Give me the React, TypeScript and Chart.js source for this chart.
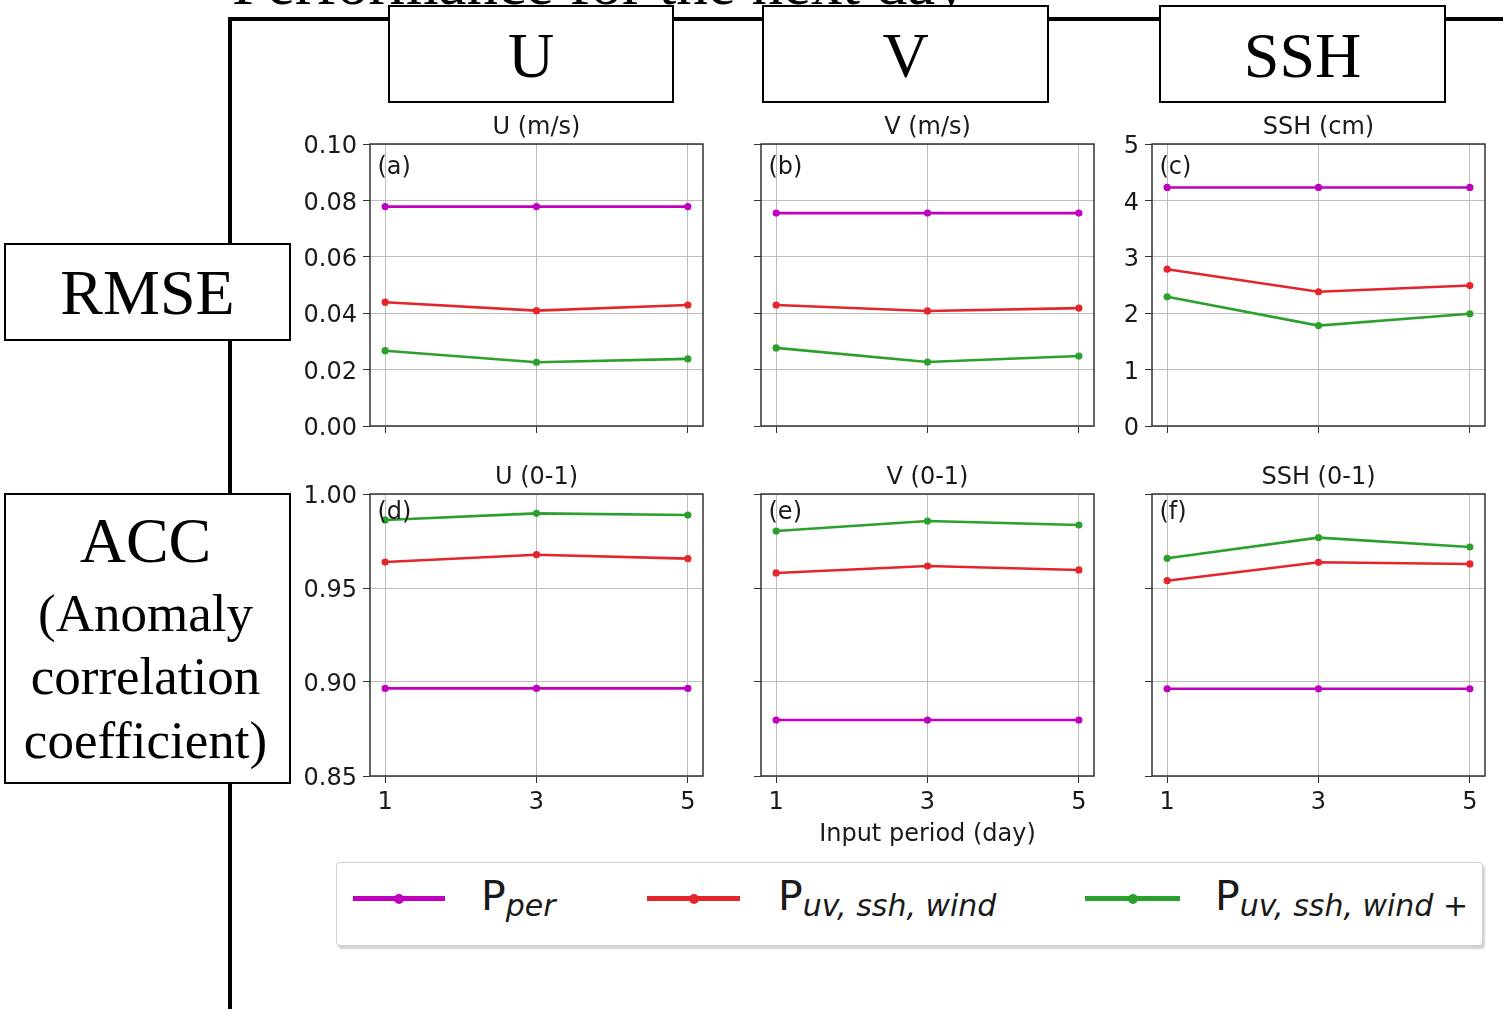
import React, { useEffect, useRef } from "react";
import { Chart, registerables } from "chart.js";

Chart.register(...registerables);

// ---------------- data ----------------
const inputPeriods = [1, 3, 5];
const xTickValues = [1, 3, 5];

const rmseUPer = [0.0778, 0.0778, 0.0778];
const rmseUWind = [0.0439, 0.0409, 0.0429];
const rmseUWindPlus = [0.0267, 0.0226, 0.0238];

const rmseVPer = [0.0755, 0.0755, 0.0755];
const rmseVWind = [0.0429, 0.0408, 0.0418];
const rmseVWindPlus = [0.0277, 0.0227, 0.0248];

const rmseSshPer = [4.23, 4.23, 4.23];
const rmseSshWind = [2.78, 2.38, 2.49];
const rmseSshWindPlus = [2.29, 1.78, 1.99];

const accUPer = [0.8966, 0.8966, 0.8966];
const accUWind = [0.9638, 0.9677, 0.9656];
const accUWindPlus = [0.9862, 0.9897, 0.9888];

const accVPer = [0.8798, 0.8798, 0.8798];
const accVWind = [0.958, 0.9617, 0.9596];
const accVWindPlus = [0.9803, 0.9856, 0.9835];

const accSshPer = [0.8964, 0.8964, 0.8964];
const accSshWind = [0.9539, 0.9637, 0.9628];
const accSshWindPlus = [0.9658, 0.9768, 0.9718];

const rmseUvTicks = [0, 0.02, 0.04, 0.06, 0.08, 0.1];
const rmseSshTicks = [0, 1, 2, 3, 4, 5];
const accTicks = [0.85, 0.9, 0.95, 1.0];

const panelTitles = ["U (m/s)", "V (m/s)", "SSH (cm)", "U (0-1)", "V (0-1)", "SSH (0-1)"];
const panelLetters = ["(a)", "(b)", "(c)", "(d)", "(e)", "(f)"];
const columnHeaders = ["U", "V", "SSH"];
const seriesSubscripts = ["per", "uv, ssh, wind", "uv, ssh, wind +"];
const xAxisTitle = "Input period (day)";
const pageTitle = "Performance for the next day";

// ---------------- styles ----------------
const MAGENTA = "#bf00bf";
const RED = "#e3262b";
const GREEN = "#2ca02c";
const SERIES_COLORS = [MAGENTA, RED, GREEN];
const GRID = "#bdbdbd";
const AXIS = "#333333";
const TEXT = "#1a1a1a";
const SANS = '"DejaVu Sans", sans-serif';
const SERIF = '"Liberation Serif", "Times New Roman", serif';

const PLOT_W = 333;
const PLOT_H = 282;
const PAD_L = 90;
const PAD_T = 40;
const PAD_R = 30;
const PAD_B = 50;
const CW = PLOT_W + PAD_L + PAD_R;
const CH = PLOT_H + PAD_T + PAD_B;
const COL_LEFT = [370, 761, 1152];
const ROW_TOP = [144, 494];

type PanelProps = {
  series: number[][];
  yTicks: number[];
  decimals: number;
  showY: boolean;
  showX: boolean;
  left: number;
  top: number;
};

const framePlugin = {
  id: "frameBox",
  afterDraw(chart: any) {
    const { ctx, chartArea } = chart;
    ctx.save();
    ctx.strokeStyle = AXIS;
    ctx.lineWidth = 1.5;
    ctx.strokeRect(chartArea.left, chartArea.top, chartArea.right - chartArea.left, chartArea.bottom - chartArea.top);
    ctx.restore();
  },
};

function Panel({ series, yTicks, decimals, showY, showX, left, top }: PanelProps) {
  const ref = useRef<HTMLCanvasElement | null>(null);
  useEffect(() => {
    if (!ref.current) return;
    const chart = new Chart(ref.current, {
      type: "line",
      data: {
        datasets: series.map((vals, si) => ({
          data: inputPeriods.map((x, i) => ({ x, y: vals[i] })),
          borderColor: SERIES_COLORS[si],
          backgroundColor: SERIES_COLORS[si],
          borderWidth: 2.6,
          pointRadius: 3.6,
          pointBorderWidth: 0,
          pointHoverRadius: 3.6,
          tension: 0,
          order: 3 - si,
        })),
      },
      options: {
        animation: false,
        responsive: false,
        layout: { padding: { top: PAD_T, right: PAD_R, left: 0, bottom: 0 } },
        plugins: { legend: { display: false }, tooltip: { enabled: false }, title: { display: false } },
        scales: {
          x: {
            type: "linear",
            min: 0.8,
            max: 5.2,
            afterBuildTicks: (s: any) => {
              s.ticks = xTickValues.map((v) => ({ value: v }));
            },
            afterFit: (s: any) => {
              s.height = PAD_B;
            },
            grid: { color: GRID, lineWidth: 1, tickLength: 7, tickColor: AXIS, drawTicks: true },
            border: { display: false },
            ticks: {
              display: showX,
              autoSkip: false,
              maxRotation: 0,
              padding: 5,
              color: TEXT,
              font: { family: SANS, size: 24 },
              callback: (v: any) => String(v),
            },
          },
          y: {
            type: "linear",
            min: yTicks[0],
            max: yTicks[yTicks.length - 1],
            afterBuildTicks: (s: any) => {
              s.ticks = yTicks.map((v) => ({ value: v }));
            },
            afterFit: (s: any) => {
              s.width = PAD_L;
            },
            grid: { color: GRID, lineWidth: 1, tickLength: 7, tickColor: AXIS, drawTicks: true },
            border: { display: false },
            ticks: {
              display: showY,
              autoSkip: false,
              padding: 6,
              labelOffset: 3,
              color: TEXT,
              font: { family: SANS, size: 24 },
              callback: (v: any) => Number(v).toFixed(decimals),
            },
          },
        },
      },
      plugins: [framePlugin],
    } as any);
    return () => chart.destroy();
  }, []);
  return (
    <canvas
      ref={ref}
      width={CW}
      height={CH}
      style={{ position: "absolute", left: left - PAD_L, top: top - PAD_T, width: CW, height: CH }}
    />
  );
}

const panels = [
  { series: [rmseUPer, rmseUWind, rmseUWindPlus], yTicks: rmseUvTicks, decimals: 2, showY: true, showX: false },
  { series: [rmseVPer, rmseVWind, rmseVWindPlus], yTicks: rmseUvTicks, decimals: 2, showY: false, showX: false },
  { series: [rmseSshPer, rmseSshWind, rmseSshWindPlus], yTicks: rmseSshTicks, decimals: 0, showY: true, showX: false },
  { series: [accUPer, accUWind, accUWindPlus], yTicks: accTicks, decimals: 2, showY: true, showX: true },
  { series: [accVPer, accVWind, accVWindPlus], yTicks: accTicks, decimals: 2, showY: false, showX: true },
  { series: [accSshPer, accSshWind, accSshWindPlus], yTicks: accTicks, decimals: 2, showY: false, showX: true },
];

const boxStyle: React.CSSProperties = {
  position: "absolute",
  background: "#fff",
  border: "2px solid #000",
  boxSizing: "border-box",
  fontFamily: SERIF,
  color: "#000",
};

export default function App() {
  const headerBoxes = [
    { left: 388, width: 286 },
    { left: 762, width: 287 },
    { left: 1159, width: 287 },
  ];
  const legendItems = [
    { lineLeft: 353, lineW: 92, textLeft: 481 },
    { lineLeft: 647, lineW: 93, textLeft: 778 },
    { lineLeft: 1085, lineW: 95, textLeft: 1215 },
  ];
  return (
    <div
      style={{
        position: "absolute",
        left: 0,
        top: 0,
        width: 1503,
        height: 1009,
        overflow: "hidden",
        background: "#fff",
      }}
    >
      {/* cut-off page title */}
      <div
        style={{
          position: "absolute",
          left: 232,
          top: 5 - 0.8375 * 63,
          fontFamily: SERIF,
          fontSize: 63,
          lineHeight: "63px",
          whiteSpace: "nowrap",
          color: "#000",
        }}
      >
        {pageTitle}
      </div>

      {/* frame lines */}
      <div style={{ position: "absolute", left: 228, top: 17, width: 4, height: 1000, background: "#000" }} />
      <div style={{ position: "absolute", left: 228, top: 17, width: 1280, height: 4, background: "#000" }} />

      {/* column header boxes */}
      {headerBoxes.map((b, i) => (
        <div
          key={i}
          style={{
            ...boxStyle,
            left: b.left,
            top: 5,
            width: b.width,
            height: 98,
            display: "flex",
            alignItems: "center",
            justifyContent: "center",
            fontSize: 64,
            lineHeight: "64px",
          }}
        >
          <span style={{ position: "relative", top: 2 }}>{columnHeaders[i]}</span>
        </div>
      ))}

      {/* row header boxes */}
      <div
        style={{
          ...boxStyle,
          left: 4,
          top: 243,
          width: 287,
          height: 98,
          display: "flex",
          alignItems: "center",
          justifyContent: "center",
          fontSize: 64,
          lineHeight: "64px",
        }}
      >
        <span style={{ position: "relative", top: 1 }}>RMSE</span>
      </div>
      <div style={{ ...boxStyle, left: 4, top: 493, width: 287, height: 291 }} />
      {[
        { t: "ACC", fs: 64, base: 563 },
        { t: "(Anomaly", fs: 53, base: 631 },
        { t: "correlation", fs: 53, base: 694 },
        { t: "coefficient)", fs: 53, base: 758 },
      ].map((l, i) => (
        <div
          key={i}
          style={{
            position: "absolute",
            left: 2,
            width: 287,
            top: l.base - 0.8375 * l.fs,
            textAlign: "center",
            fontFamily: SERIF,
            fontSize: l.fs,
            lineHeight: l.fs + "px",
            color: "#000",
            whiteSpace: "nowrap",
          }}
        >
          {l.t}
        </div>
      ))}

      {/* charts */}
      {panels.map((p, i) => {
        const col = i % 3;
        const row = Math.floor(i / 3);
        return <Panel key={i} {...p} left={COL_LEFT[col]} top={ROW_TOP[row]} />;
      })}

      {/* panel titles and letters */}
      {panels.map((_, i) => {
        const col = i % 3;
        const row = Math.floor(i / 3);
        return (
          <React.Fragment key={"t" + i}>
            <div
              style={{
                position: "absolute",
                left: COL_LEFT[col],
                width: PLOT_W,
                top: row === 0 ? 111.5 : 461.5,
                textAlign: "center",
                fontFamily: SANS,
                fontSize: 24,
                lineHeight: "28px",
                color: TEXT,
                whiteSpace: "nowrap",
              }}
            >
              {panelTitles[i]}
            </div>
            <div
              style={{
                position: "absolute",
                left: COL_LEFT[col] + 7.5,
                top: row === 0 ? 152 : 497,
                fontFamily: SANS,
                fontSize: 24,
                lineHeight: "28px",
                color: TEXT,
                whiteSpace: "nowrap",
              }}
            >
              {panelLetters[i]}
            </div>
          </React.Fragment>
        );
      })}

      {/* x-axis title */}
      <div
        style={{
          position: "absolute",
          left: COL_LEFT[1],
          width: PLOT_W,
          top: 818.7,
          textAlign: "center",
          fontFamily: SANS,
          fontSize: 24,
          lineHeight: "28px",
          color: TEXT,
          whiteSpace: "nowrap",
        }}
      >
        {xAxisTitle}
      </div>

      {/* legend */}
      <div
        style={{
          position: "absolute",
          left: 336,
          top: 862,
          width: 1147,
          height: 84,
          border: "1.5px solid #d0d0d0",
          borderRadius: 4,
          boxSizing: "border-box",
          background: "#fff",
          boxShadow: "2px 3px 2px rgba(0,0,0,0.18)",
        }}
      />
      {legendItems.map((it, i) => (
        <React.Fragment key={"l" + i}>
          <div
            style={{
              position: "absolute",
              left: it.lineLeft,
              top: 896,
              width: it.lineW,
              height: 5,
              background: SERIES_COLORS[i],
            }}
          />
          <div
            style={{
              position: "absolute",
              left: it.lineLeft + it.lineW / 2 - 5,
              top: 893.5,
              width: 10,
              height: 10,
              borderRadius: "50%",
              background: SERIES_COLORS[i],
            }}
          />
          <div
            style={{
              position: "absolute",
              left: it.textLeft,
              top: 912 - 0.8775 * 41,
              fontFamily: SANS,
              fontSize: 41,
              lineHeight: "41px",
              color: TEXT,
              whiteSpace: "nowrap",
            }}
          >
            P
            <span style={{ fontSize: 30, fontStyle: "italic", lineHeight: "30px", position: "relative", top: 6 }}>
              {seriesSubscripts[i]}
            </span>
          </div>
        </React.Fragment>
      ))}
    </div>
  );
}
